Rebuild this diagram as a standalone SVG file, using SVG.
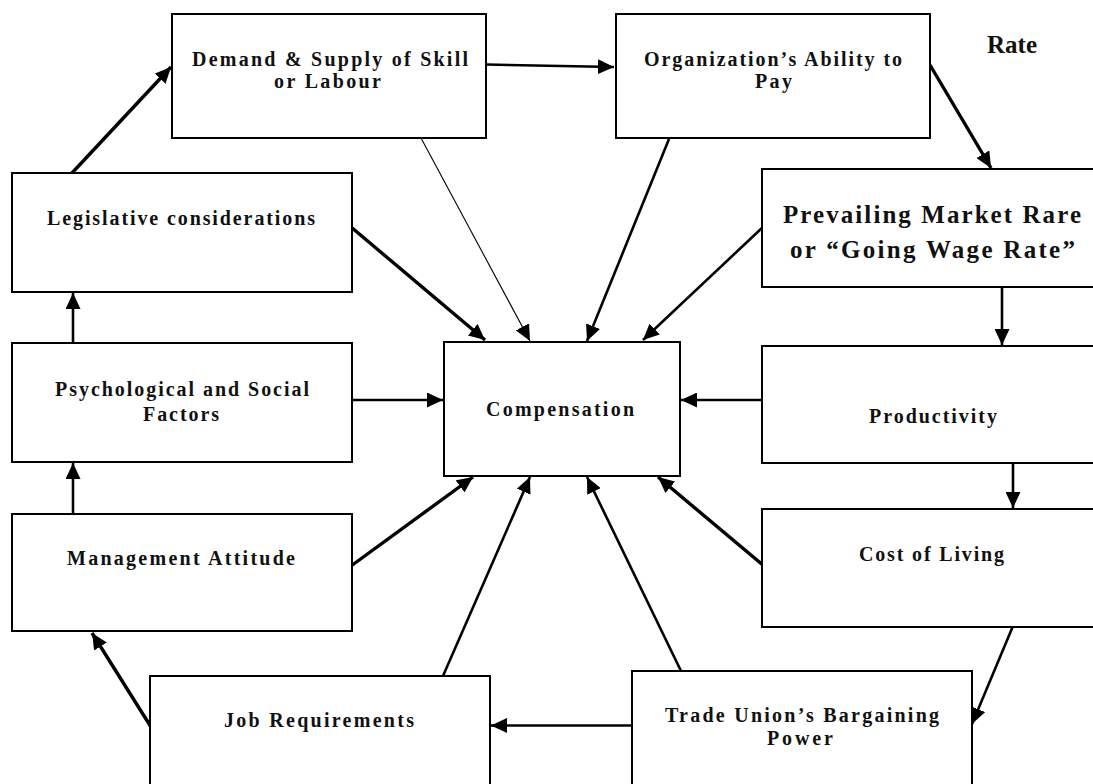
<svg xmlns="http://www.w3.org/2000/svg" width="1093" height="784" viewBox="0 0 1093 784">
<defs>
<style>
.box{fill:#fff;stroke:#000;stroke-width:2}
.lbl{font-family:"Liberation Serif","Times New Roman",serif;font-weight:bold;font-size:20px;fill:#111}
.big{font-size:25px}
.c{stroke:#000;stroke-width:2.6;fill:none;marker-end:url(#ah)}
.thin{stroke-width:1.1}
.thick{stroke-width:3.4}
</style>
<marker id="ah" markerUnits="userSpaceOnUse" markerWidth="17" markerHeight="15" refX="16" refY="7.5" orient="auto">
<path d="M0,0 L16,7.5 L0,15 z" fill="#000"/>
</marker>
</defs>
<rect width="1093" height="784" fill="#fff"/>
<g id="connectors">
<line class="c thick" x1="72" y1="173" x2="171" y2="67"/>
<line class="c" x1="486" y1="64.5" x2="614" y2="67"/>
<line class="c thick" x1="930" y1="65" x2="991" y2="168"/>
<line class="c" x1="1002" y1="288" x2="1002" y2="345"/>
<line class="c" x1="1013" y1="463" x2="1013" y2="508"/>
<line class="c" x1="1013" y1="626" x2="972" y2="724"/>
<line class="c" x1="632" y1="725.5" x2="491" y2="725.5"/>
<line class="c thick" x1="151" y1="727" x2="92" y2="633"/>
<line class="c" x1="73" y1="514" x2="73" y2="463"/>
<line class="c" x1="73" y1="343" x2="73" y2="293"/>
<line class="c thick" x1="351" y1="227" x2="485" y2="340"/>
<line class="c thin" x1="421" y1="138" x2="530" y2="341"/>
<line class="c" x1="669" y1="139" x2="587" y2="341"/>
<line class="c" x1="763" y1="227" x2="643" y2="340"/>
<line class="c" x1="352" y1="400" x2="443" y2="400"/>
<line class="c" x1="762" y1="400" x2="681" y2="400"/>
<line class="c thick" x1="351" y1="566" x2="473" y2="477"/>
<line class="c" x1="443" y1="676" x2="530" y2="477"/>
<line class="c" x1="681" y1="671" x2="587" y2="477"/>
<line class="c thick" x1="764" y1="566" x2="658" y2="477"/>
</g>
<g id="demand">
<rect class="box" x="172" y="14" width="314" height="124"/>
<text class="lbl" x="192" y="66" textLength="276" lengthAdjust="spacing">Demand &amp; Supply of Skill</text>
<text class="lbl" x="274" y="88" textLength="107" lengthAdjust="spacing">or Labour</text>
</g>
<g id="organization">
<rect class="box" x="616" y="14" width="314" height="124"/>
<text class="lbl" x="644" y="66" textLength="258" lengthAdjust="spacing">Organization’s Ability to</text>
<text class="lbl" x="755" y="88" textLength="37" lengthAdjust="spacing">Pay</text>
</g>
<g id="rate">
<text class="lbl big" x="987" y="53">Rate</text>
</g>
<g id="legislative">
<rect class="box" x="12" y="173" width="340" height="119"/>
<text class="lbl" x="47" y="225" textLength="268" lengthAdjust="spacing">Legislative considerations</text>
</g>
<g id="prevailing">
<rect class="box" x="762" y="169" width="340" height="118"/>
<text class="lbl big" x="783" y="223" textLength="298" lengthAdjust="spacing">Prevailing Market Rare</text>
<text class="lbl big" x="790" y="258" textLength="285" lengthAdjust="spacing">or “Going Wage Rate”</text>
</g>
<g id="psychological">
<rect class="box" x="12" y="343" width="340" height="119"/>
<text class="lbl" x="55" y="396" textLength="254" lengthAdjust="spacing">Psychological and Social</text>
<text class="lbl" x="143" y="421" textLength="76" lengthAdjust="spacing">Factors</text>
</g>
<g id="compensation">
<rect class="box" x="444" y="342" width="236" height="134"/>
<text class="lbl" x="486" y="416" textLength="148" lengthAdjust="spacing">Compensation</text>
</g>
<g id="productivity">
<rect class="box" x="762" y="346" width="340" height="117"/>
<text class="lbl" x="869" y="423" textLength="128" lengthAdjust="spacing">Productivity</text>
</g>
<g id="management">
<rect class="box" x="12" y="514" width="340" height="117"/>
<text class="lbl" x="67" y="565" textLength="228" lengthAdjust="spacing">Management Attitude</text>
</g>
<g id="cost">
<rect class="box" x="762" y="509" width="340" height="118"/>
<text class="lbl" x="859" y="561" textLength="145" lengthAdjust="spacing">Cost of Living</text>
</g>
<g id="job">
<rect class="box" x="150" y="676" width="340" height="120"/>
<text class="lbl" x="224" y="727" textLength="190" lengthAdjust="spacing">Job Requirements</text>
</g>
<g id="trade">
<rect class="box" x="632" y="671" width="340" height="125"/>
<text class="lbl" x="665" y="722" textLength="274" lengthAdjust="spacing">Trade Union’s Bargaining</text>
<text class="lbl" x="767" y="745" textLength="66" lengthAdjust="spacing">Power</text>
</g>
</svg>
